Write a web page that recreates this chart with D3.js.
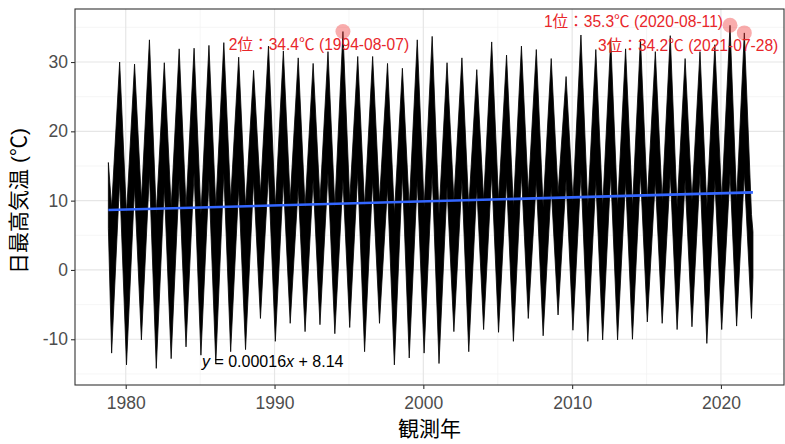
<!DOCTYPE html>
<html>
<head>
<meta charset="utf-8">
<script src="https://cdn.jsdelivr.net/npm/d3@7"></script>
<style>
  body { margin: 0; background: #fff; }
  text { font-family: "Liberation Sans", "Noto Sans CJK JP", sans-serif; }
</style>
</head>
<body>
<svg id="chart" width="785" height="444"></svg>
<script>
// summer peak of the daily max temperature, one per year (1979-2021)
const peakYears = d3.range(1979, 2022);
const peakMax = [30.0, 29.7, 33.2, 29.9, 31.9, 32.0, 32.4, 32.8, 30.7, 28.8,
                 32.3, 31.6, 30.6, 29.8, 31.5, 34.4, 30.8, 30.8, 29.8, 29.1,
                 33.2, 33.7, 29.9, 30.6, 28.9, 32.9, 31.0, 32.3, 31.8, 30.5,
                 27.9, 33.9, 31.8, 33.2, 31.9, 33.3, 31.5, 33.8, 30.5, 31.5,
                 32.5, 35.3, 34.2];
// coolest daily max around the summer peak
const peakLow = [13, 12, 14, 12, 13, 14, 13, 14, 12, 13,
                 14, 13, 12, 13, 14, 13, 14, 13, 12, 14,
                 13, 14, 12, 13, 12, 14, 13, 14, 13, 12,
                 13, 14, 13, 14, 13, 14, 13, 14, 13, 14,
                 13, 14, 14];

// winter trough of the daily max temperature, one per year (1979-2022)
const troughYears = d3.range(1979, 2023);
const troughMin = [-12.0, -13.7, -10.1, -14.2, -12.8, -11.1, -12.3, -13.5, -11.8, -11.5,
                   -7.0, -10.3, -7.7, -8.9, -7.9, -9.2, -8.3, -11.8, -7.7, -13.7,
                   -12.7, -12.0, -13.5, -8.9, -11.8, -8.6, -9.0, -10.3, -7.0, -9.5,
                   -6.5, -8.7, -10.3, -10.1, -10.1, -10.0, -7.5, -7.7, -8.6, -8.2,
                   -10.6, -8.6, -8.1, -7.0];
// warmest daily max around the winter trough
const troughHigh = [9, 8, 10, 8, 9, 9, 8, 9, 10, 9,
                    11, 9, 10, 9, 10, 9, 10, 9, 10, 8,
                    9, 9, 8, 10, 9, 10, 10, 9, 11, 9,
                    11, 10, 9, 9, 9, 9, 10, 10, 9, 10,
                    9, 10, 10, 8];

const seriesStart = { date: "1978-11-01", high: 15.5, low: 6 };
const seriesEnd = { date: "2022-02-25", high: 5.5, low: -1 };

// three highest days
const topDays = [
  { rank: 1, date: "2020-08-11", value: 35.3 },
  { rank: 2, date: "1994-08-07", value: 34.4 },
  { rank: 3, date: "2021-07-28", value: 34.2 }
];

const trend = { slope: 0.00016, intercept: 8.14 };

const xTickYears = [1980, 1990, 2000, 2010, 2020];
const xMinorYears = [1985, 1995, 2005, 2015];
const yTicks = [-10, 0, 10, 20, 30];
const yMinor = [-15, -5, 5, 15, 25, 35];

const parse = d3.utcParse("%Y-%m-%d");
const yearDate = yr => new Date(Date.UTC(yr, 0, 1));

const svg = d3.select("#chart");
const pLeft = 75, pRight = 784, pTop = 9, pBottom = 385;

let x = d3.scaleUtc()
  .domain([new Date(Date.UTC(1976, 7, 4)), new Date(Date.UTC(2024, 2, 28))])
  .range([pLeft, pRight]);
let y = d3.scaleLinear()
  .domain([-16.6, 37.65])
  .range([pBottom, pTop]);

// build the envelope points
let topByYear = {};
topDays.forEach(d => { topByYear[d.date.slice(0, 4)] = d.date; });

let pts = [];
pts.push({ date: parse(seriesStart.date), hi: seriesStart.high, lo: seriesStart.low });
troughYears.forEach((yr, i) => {
  pts.push({ date: parse(yr + "-01-20"), hi: troughHigh[i], lo: troughMin[i] });
  let j = peakYears.indexOf(yr);
  if (j >= 0) {
    let pd = topByYear[yr] || (yr + "-08-05");
    pts.push({ date: parse(pd), hi: peakMax[j], lo: peakLow[j] });
  }
});
pts.push({ date: parse(seriesEnd.date), hi: seriesEnd.high, lo: seriesEnd.low });

// grid
let grid = svg.append("g");
grid.selectAll(".xmin").data(xMinorYears).enter().append("line")
  .attr("x1", d => x(yearDate(d))).attr("x2", d => x(yearDate(d)))
  .attr("y1", pTop).attr("y2", pBottom)
  .attr("stroke", "#f2f2f2").attr("stroke-width", 0.7);
grid.selectAll(".ymin").data(yMinor).enter().append("line")
  .attr("x1", pLeft).attr("x2", pRight)
  .attr("y1", d => y(d)).attr("y2", d => y(d))
  .attr("stroke", "#f2f2f2").attr("stroke-width", 0.7);
grid.selectAll(".xmaj").data(xTickYears).enter().append("line")
  .attr("x1", d => x(yearDate(d))).attr("x2", d => x(yearDate(d)))
  .attr("y1", pTop).attr("y2", pBottom)
  .attr("stroke", "#e6e6e6").attr("stroke-width", 1.2);
grid.selectAll(".ymaj").data(yTicks).enter().append("line")
  .attr("x1", pLeft).attr("x2", pRight)
  .attr("y1", d => y(d)).attr("y2", d => y(d))
  .attr("stroke", "#e6e6e6").attr("stroke-width", 1.2);

// temperature band
let area = d3.area()
  .x(d => x(d.date))
  .y0(d => y(d.lo))
  .y1(d => y(d.hi));
svg.append("path")
  .datum(pts)
  .attr("d", area)
  .attr("fill", "#000")
  .attr("stroke", "#000")
  .attr("stroke-width", 0.8)
  .attr("stroke-linejoin", "round");

// trend line
let dayMs = 86400000;
let tStart = pts[0].date, tEnd = pts[pts.length - 1].date;
let trendPts = [tStart, tEnd].map(t => ({ date: t, v: trend.slope * (t / dayMs) + trend.intercept }));
svg.append("path")
  .datum(trendPts)
  .attr("d", d3.line().x(d => x(d.date)).y(d => y(d.v)))
  .attr("stroke", "#3366ff")
  .attr("stroke-width", 2.6)
  .attr("fill", "none");

// highlighted days
svg.selectAll(".top").data(topDays).enter().append("circle")
  .attr("cx", d => x(parse(d.date)))
  .attr("cy", d => y(d.value))
  .attr("r", 7.5)
  .attr("fill", "#f03030")
  .attr("fill-opacity", 0.4);

let labelPlace = { 1: { dx: -7, dy: 2, anchor: "end" },
                   2: { dx: -24, dy: 18, anchor: "middle" },
                   3: { dx: 34, dy: 18, anchor: "end" } };
svg.selectAll(".toplab").data(topDays).enter().append("text")
  .attr("x", d => x(parse(d.date)) + labelPlace[d.rank].dx)
  .attr("y", d => y(d.value) + labelPlace[d.rank].dy)
  .attr("text-anchor", d => labelPlace[d.rank].anchor)
  .attr("fill", "#e8262a")
  .style("font-size", "15.6px")
  .text(d => d.rank + "位：" + d.value.toFixed(1) + "℃ (" + d.date + ")");

// regression equation
let eq = svg.append("text")
  .attr("x", x(new Date(Date.UTC(1985, 1, 15))))
  .attr("y", 367)
  .attr("fill", "#000")
  .style("font-size", "16px");
eq.append("tspan").style("font-style", "italic").text("y");
eq.append("tspan").text(" = " + trend.slope.toFixed(5));
eq.append("tspan").style("font-style", "italic").text("x");
eq.append("tspan").text(" + " + trend.intercept);

// panel border
svg.append("rect")
  .attr("x", pLeft).attr("y", pTop)
  .attr("width", pRight - pLeft).attr("height", pBottom - pTop)
  .attr("fill", "none").attr("stroke", "#333").attr("stroke-width", 1.1);

// axes
let xAxis = d3.axisBottom(x)
  .tickValues(xTickYears.map(yearDate))
  .tickFormat(d3.utcFormat("%Y"))
  .tickSize(4).tickPadding(3);
let gx = svg.append("g").attr("transform", "translate(0," + pBottom + ")").call(xAxis);
let yAxis = d3.axisLeft(y).tickValues(yTicks).tickFormat(d => String(d))
  .tickSize(4).tickPadding(3);
let gy = svg.append("g").attr("transform", "translate(" + pLeft + ",0)").call(yAxis);
[gx, gy].forEach(g => {
  g.select(".domain").remove();
  g.selectAll(".tick line").attr("stroke", "#333").attr("stroke-width", 1.1);
  g.selectAll(".tick text").attr("fill", "#4d4d4d")
    .style("font-size", "17.5px")
    .style("font-family", "Liberation Sans, Arial, sans-serif");
});
gx.selectAll(".tick text").attr("dy", "0.95em");

// axis titles
svg.append("text")
  .attr("x", (pLeft + pRight) / 2).attr("y", 436)
  .attr("text-anchor", "middle")
  .style("font-size", "21px")
  .attr("fill", "#000")
  .text("観測年");
svg.append("text")
  .attr("transform", "translate(26,201) rotate(-90)")
  .attr("text-anchor", "middle")
  .style("font-size", "21px")
  .attr("fill", "#000")
  .text("日最高気温 (℃)");
</script>
</body>
</html>
